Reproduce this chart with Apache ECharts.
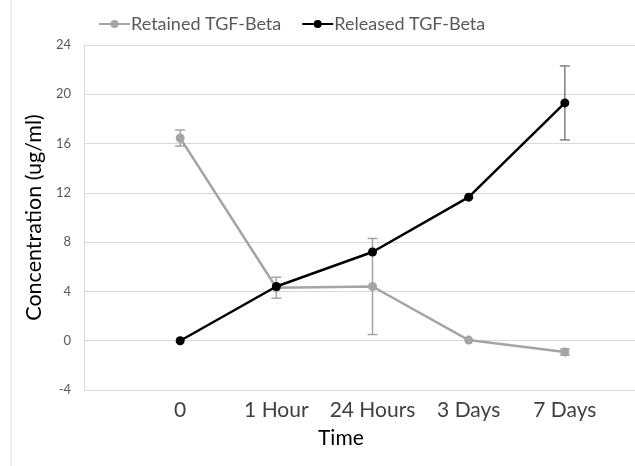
<!DOCTYPE html>
<html>
<head>
<meta charset="utf-8">
<script src="https://cdn.jsdelivr.net/npm/echarts@6/dist/echarts.min.js"></script>
<style>
  html, body { margin: 0; padding: 0; background: #fff; }
  #chart { width: 635px; height: 466px; }
</style>
</head>
<body>
<div id="chart"></div>
<script>
// x categories: Excel plot had an empty leading slot
var categories = ['', '0', '1 Hour', '24 Hours', '3 Days', '7 Days', ''];
var retained = [null, 16.45, 4.3, 4.4, 0.05, -0.92, null];
var retainedErr = [0, 0.65, 0.85, 3.9, 0, 0.25, 0];
var released = [null, 0, 4.4, 7.2, 11.65, 19.3, null];
var releasedErr = [0, 0, 0, 0, 0, 3.0, 0];
var yTicks = { min: -4, max: 24, interval: 4 };

var myChart = echarts.init(document.getElementById('chart'));

function errData(vals, errs) {
    var out = [];
    for (var i = 0; i < vals.length; i++) {
        if (vals[i] != null && errs[i] > 0) {
            out.push([i, vals[i] - errs[i], vals[i] + errs[i]]);
        }
    }
    return out;
}

function errSeries(vals, errs, color) {
    return {
        type: 'custom',
        silent: true,
        z: 1,
        data: errData(vals, errs),
        renderItem: function (params, api) {
            var lo = api.coord([api.value(0), api.value(1)]);
            var hi = api.coord([api.value(0), api.value(2)]);
            var w = 5;
            var st = { stroke: color, lineWidth: 1.5 };
            return {
                type: 'group',
                children: [
                    { type: 'line', shape: { x1: hi[0], y1: hi[1], x2: lo[0], y2: lo[1] }, style: st },
                    { type: 'line', shape: { x1: hi[0] - w, y1: hi[1], x2: hi[0] + w, y2: hi[1] }, style: st },
                    { type: 'line', shape: { x1: lo[0] - w, y1: lo[1], x2: lo[0] + w, y2: lo[1] }, style: st }
                ]
            };
        }
    };
}

var option = {
    backgroundColor: '#fff',
    animation: false,
    textStyle: { fontFamily: 'Lato' },
    legend: {
        top: 10,
        left: 93,
        itemWidth: 31,
        itemHeight: 10,
        itemGap: 20,
        textStyle: { fontSize: 18, color: '#595959', fontFamily: 'Lato', padding: [0, 0, 0, -4] },
        data: ['Retained TGF-Beta', 'Released TGF-Beta']
    },
    // plot runs past the right edge of the picture
    grid: { left: 84, width: 577, top: 45, bottom: 76, outerBoundsMode: 'none' },
    xAxis: {
        type: 'category',
        data: categories,
        boundaryGap: false,
        axisLine: { show: false },
        axisTick: { show: false },
        splitLine: { show: false },
        axisLabel: { interval: 0, fontSize: 21, color: '#404040', margin: 10, fontFamily: 'Lato' }
    },
    yAxis: {
        type: 'value',
        min: yTicks.min,
        max: yTicks.max,
        interval: yTicks.interval,
        name: 'Concentration (ug/ml)',
        nameLocation: 'middle',
        nameRotate: 90,
        nameGap: 29,
        nameTextStyle: { fontSize: 21.5, color: '#000', fontFamily: 'Lato' },
        axisLine: { show: true, lineStyle: { color: '#d9d9d9', width: 1 } },
        axisTick: { show: false },
        splitLine: { lineStyle: { color: '#d9d9d9', width: 1 } },
        axisLabel: { fontSize: 13, color: '#595959', margin: 13, fontFamily: 'Lato' }
    },
    graphic: [
        { type: 'line', shape: { x1: 11, y1: 0, x2: 11, y2: 466 }, style: { stroke: '#e0e0e0', lineWidth: 1 } },
        { type: 'text', left: 318, top: 428, style: { text: 'Time', fontSize: 21, fill: '#000', fontFamily: 'Lato' } }
    ],
    series: [
        errSeries(retained, retainedErr, '#a5a5a5'),
        errSeries(released, releasedErr, '#7f7f7f'),
        {
            name: 'Retained TGF-Beta',
            type: 'line',
            data: retained,
            z: 2,
            symbol: 'circle',
            symbolSize: 9,
            color: '#a5a5a5',
            lineStyle: { color: '#a5a5a5', width: 2.5 },
            itemStyle: { color: '#a5a5a5' }
        },
        {
            name: 'Released TGF-Beta',
            type: 'line',
            data: released,
            z: 3,
            symbol: 'circle',
            symbolSize: 9,
            color: '#000',
            lineStyle: { color: '#000', width: 2.5 },
            itemStyle: { color: '#000' }
        }
    ]
};

myChart.setOption(option);
</script>
</body>
</html>
